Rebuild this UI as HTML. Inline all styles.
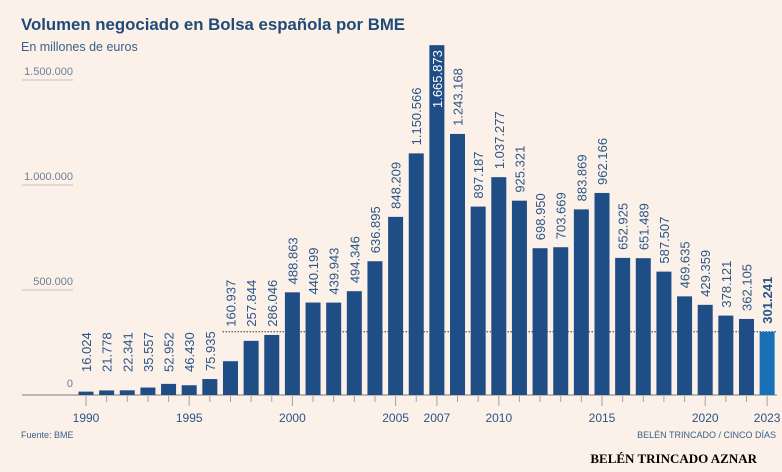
<!DOCTYPE html>
<html><head><meta charset="utf-8"><style>
body{margin:0;background:#fcf1e8;}
svg{display:block;font-family:"Liberation Sans",sans-serif;}
</style></head><body>
<svg width="782" height="472" viewBox="0 0 782 472">
<rect width="782" height="472" fill="#fcf1e8"/>
<text x="21" y="30" font-size="17" font-weight="bold" fill="#1f4a7a" textLength="384" lengthAdjust="spacingAndGlyphs">Volumen negociado en Bolsa española por BME</text>
<text x="21" y="51" font-size="12.5" fill="#3a5f8a">En millones de euros</text>
<g id="grid"></g>
<g id="bars"></g>
<text x="21" y="438" font-size="9" fill="#3a5f8a">Fuente: BME</text>
<text x="776" y="438" font-size="9" fill="#3a5f8a" text-anchor="end">BELÉN TRINCADO / CINCO DÍAS</text>
<text x="757" y="463" font-size="13" font-weight="bold" fill="#000" text-anchor="end" font-family="Liberation Serif,serif">BELÉN TRINCADO AZNAR</text>
</svg>
<script>
const years=[1990,1991,1992,1993,1994,1995,1996,1997,1998,1999,2000,2001,2002,2003,2004,2005,2006,2007,2008,2009,2010,2011,2012,2013,2014,2015,2016,2017,2018,2019,2020,2021,2022,2023];
const values=[16024,21778,22341,35557,52952,46430,75935,160937,257844,286046,488863,440199,439943,494346,636895,848209,1150566,1665873,1243168,897187,1037277,925321,698950,703669,883869,962166,652925,651489,587507,469635,429359,378121,362105,301241];
const yTicks=[0,500000,1000000,1500000];
const xLabels=[1990,1995,2000,2005,2007,2010,2015,2020,2023];
const NS="http://www.w3.org/2000/svg";
const grid=document.getElementById('grid'),barsG=document.getElementById('bars');
function y(v){return 395-v*0.00021;}
function x(yr){return 86+(yr-1990)*20.64;}
function fmt(v){return v.toString().replace(/\B(?=(\d{3})+(?!\d))/g,'.');}
function mk(tag,attrs,parent){const e=document.createElementNS(NS,tag);for(const k in attrs)e.setAttribute(k,attrs[k]);parent.appendChild(e);return e;}
yTicks.forEach(t=>{
  if(t>0){const l=mk('line',{x1:22,x2:73,y1:y(t),y2:y(t),stroke:'#c9c2bb','stroke-width':1},grid);
  
  }
  const tx=mk('text',{x:73,y:y(t)-(t>0?5:8),'font-size':11,fill:'#6a7f99','text-anchor':'end'},grid);
  tx.textContent=fmt(t);
  
  
});
const base=mk('line',{x1:22,x2:777,y1:395,y2:395,stroke:'#a9a39d','stroke-width':1.5},grid);


years.forEach(yr=>{
  const major=yr%5===0||yr===2023||yr===2007;
  const t=mk('line',{x1:x(yr),x2:x(yr),y1:396,y2:major?406:402,stroke:'#a9a39d','stroke-width':1},grid);
  
  
});
xLabels.forEach(yr=>{
  const t=mk('text',{x:x(yr),y:422,'font-size':12,fill:'#2a5588','text-anchor':'middle'},grid);
  t.textContent=yr;
  
  
});
const last=values[values.length-1];
const refY=y(last);
const dl=mk('line',{x1:x(1997)-8,x2:776,y1:refY,y2:refY,stroke:'#333','stroke-width':1,'stroke-dasharray':'1.5,1.5'},grid);


values.forEach((v,i)=>{
  const yr=years[i];
  const cx=x(yr);const isLast=i===values.length-1;
  const r=mk('rect',{x:cx-7.5,y:y(v),width:15,height:395-y(v),fill:isLast?'#1a70b6':'#1f4d86'},barsG);
  
  
  let ty=y(v)-8;
  if(yr<1997) ty=Math.min(ty,372);
  else if(ty>refY-5) ty=refY-5;
  if(yr===2007) ty=y(v)+5;
  const t=mk('text',{x:0,y:0,transform:`translate(${cx+5},${ty}) rotate(-90)`,'font-size':13,fill:yr===2007?'#fff':'#2a5588','text-anchor':yr===2007?'end':'start','font-weight':isLast?'bold':'normal'},barsG);
  t.textContent=fmt(v);
  
  
});
</script>
</body></html>
